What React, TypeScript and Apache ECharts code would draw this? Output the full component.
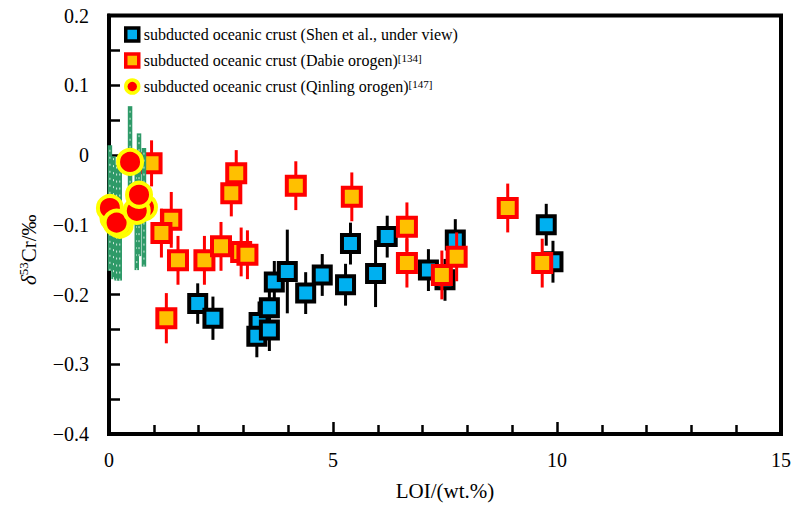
import React, { useEffect, useRef } from 'react';
import * as echarts from 'echarts';

// [LOI (wt.%), δ53Cr (‰), error (±)]
const shenData: [number, number, number][] = [
  [1.98, -0.213, 0.029],
  [2.32, -0.234, 0.031],
  [3.35, -0.24, 0.03],
  [3.3, -0.26, 0.03],
  [3.58, -0.219, 0.03],
  [3.58, -0.251, 0.03],
  [3.69, -0.182, 0.03],
  [3.98, -0.167, 0.06],
  [4.39, -0.198, 0.03],
  [4.76, -0.172, 0.03],
  [5.28, -0.186, 0.03],
  [5.39, -0.127, 0.03],
  [5.95, -0.17, 0.048],
  [6.21, -0.117, 0.03],
  [7.13, -0.165, 0.03],
  [7.73, -0.122, 0.03],
  [7.5, -0.179, 0.03],
  [9.76, -0.1, 0.03],
  [9.91, -0.153, 0.03],
];

const dabieData: [number, number, number][] = [
  [0.95, -0.012, 0.033],
  [1.39, -0.093, 0.04],
  [1.17, -0.112, 0.035],
  [1.54, -0.151, 0.035],
  [2.13, -0.151, 0.035],
  [2.84, -0.026, 0.033],
  [2.73, -0.055, 0.033],
  [4.17, -0.044, 0.035],
  [2.5, -0.131, 0.035],
  [2.95, -0.139, 0.035],
  [3.09, -0.143, 0.035],
  [1.28, -0.234, 0.036],
  [5.42, -0.06, 0.035],
  [6.65, -0.103, 0.035],
  [6.65, -0.155, 0.035],
  [7.76, -0.146, 0.035],
  [7.43, -0.172, 0.035],
  [8.9, -0.076, 0.035],
  [9.67, -0.155, 0.035],
];

const qinlingData: [number, number, number][] = [
  [0.1, -0.09, 0.088],
  [0.24, -0.1, 0.08],
  [0.02, -0.076, 0.09],
  [0.17, -0.097, 0.083],
  [0.78, -0.075, 0.085],
  [0.62, -0.08, 0.085],
  [0.67, -0.057, 0.088],
  [0.47, -0.01, 0.08],
];

const seriesNames = [
  'subducted oceanic crust (Shen et al., under view)',
  'subducted oceanic crust (Dabie orogen)',
  'subducted oceanic crust (Qinling orogen)',
];
const superscripts = ['', '[134]', '[147]'];

const xMin = 0;
const xMax = 15;
const xInterval = 5;
const yMin = -0.4;
const yMax = 0.2;
const yInterval = 0.1;

const FONT = "'Liberation Serif', 'Times New Roman', Times, serif";

function errorSeries(data: [number, number, number][], color: string, width: number, z: number, dotted = false) {
  return {
    type: 'custom',
    name: 'err-' + color,
    z,
    silent: true,
    clip: false,
    encode: { x: 0, y: [1, 2] },
    data: data.map((d) => [d[0], d[1] - d[2], d[1] + d[2]]),
    renderItem: (_params: any, api: any) => {
      const x = api.value(0);
      const a = api.coord([x, api.value(1)]);
      const b = api.coord([x, api.value(2)]);
      const shape = { x1: a[0], y1: a[1], x2: b[0], y2: b[1] };
      const children: any[] = [
        { type: 'line', shape, style: { stroke: color, lineWidth: width } },
      ];
      if (dotted) {
        children.push({
          type: 'line',
          shape,
          style: { stroke: '#ffffff', lineWidth: 0.8, lineDash: [2, 5] },
        });
      }
      return { type: 'group', children };
    },
  };
}

export default function App() {
  const ref = useRef<HTMLDivElement>(null);

  useEffect(() => {
    if (!ref.current) return;
    const chart = echarts.init(ref.current, undefined, { renderer: 'svg' });

    const fmt = (v: number) => {
      if (Math.abs(v) < 1e-9) return '0';
      return (v < 0 ? '\u2212' : '') + Math.abs(v).toFixed(1);
    };

    const option: any = {
      animation: false,
      backgroundColor: '#ffffff',
      textStyle: { fontFamily: FONT },
      grid: {
        left: 109,
        right: 9,
        top: 15.5,
        bottom: 81,
        show: true,
        borderColor: '#000',
        borderWidth: 4,
      },
      legend: {
        left: 124,
        top: 26,
        orient: 'vertical',
        padding: 0,
        itemGap: 9,
        itemWidth: 13,
        itemHeight: 13,
        selectedMode: false,
        textStyle: {
          fontFamily: FONT,
          fontSize: 16,
          color: '#000',
          lineHeight: 17,
          rich: {
            s: { fontFamily: FONT, fontSize: 11, verticalAlign: 'top', lineHeight: 17, color: '#000' },
          },
        },
        formatter: (name: string) => {
          const i = seriesNames.indexOf(name);
          const sup = superscripts[i];
          return sup ? name + '{s|' + sup + '}' : name;
        },
        data: [
          { name: seriesNames[0], icon: 'rect', itemStyle: { color: '#00B0F0', borderColor: '#000', borderWidth: 3.5 } },
          { name: seriesNames[1], icon: 'rect', itemStyle: { color: '#FFC000', borderColor: '#FF0000', borderWidth: 3.5 } },
          { name: seriesNames[2], icon: 'circle', itemStyle: { color: '#FF0000', borderColor: '#FFFF00', borderWidth: 3.5 } },
        ],
      },
      xAxis: {
        type: 'value',
        min: xMin,
        max: xMax,
        interval: xInterval,
        name: 'LOI/(wt.%)',
        nameLocation: 'middle',
        nameGap: 46,
        nameTextStyle: { fontFamily: FONT, fontSize: 21, color: '#000' },
        axisLine: { show: true, onZero: false, lineStyle: { color: '#000', width: 4 } },
        axisTick: { show: true, inside: true, length: 12, lineStyle: { color: '#000', width: 2.5 } },
        minorTick: { show: true, splitNumber: 5, length: 9, lineStyle: { color: '#000', width: 2.5 } },
        splitLine: { show: false },
        minorSplitLine: { show: false },
        axisLabel: { fontFamily: FONT, fontSize: 20, color: '#000', margin: 16 },
      },
      yAxis: {
        type: 'value',
        min: yMin,
        max: yMax,
        interval: yInterval,
        name: '{d|δ}{s|53}{n|Cr/‰}',
        nameLocation: 'middle',
        nameGap: 68,
        nameTextStyle: {
          fontFamily: FONT,
          fontSize: 21,
          color: '#000',
          padding: [0, 50, 0, 0],
          rich: {
            d: { fontFamily: FONT, fontSize: 21, fontStyle: 'italic', lineHeight: 24, color: '#000' },
            s: { fontFamily: FONT, fontSize: 13, verticalAlign: 'top', lineHeight: 24, color: '#000' },
            n: { fontFamily: FONT, fontSize: 21, lineHeight: 24, color: '#000' },
          },
        },
        axisLine: { show: true, onZero: false, lineStyle: { color: '#000', width: 4 } },
        axisTick: { show: true, inside: true, length: 11, lineStyle: { color: '#000', width: 2.5 } },
        minorTick: { show: true, splitNumber: 2, length: 11, lineStyle: { color: '#000', width: 2.5 } },
        splitLine: { show: false },
        minorSplitLine: { show: false },
        axisLabel: { fontFamily: FONT, fontSize: 20, color: '#000', margin: 20, formatter: fmt },
      },
      series: [
        errorSeries(shenData, '#000000', 3, 2),
        {
          type: 'scatter',
          name: seriesNames[0],
          z: 3,
          silent: true,
          clip: false,
          symbol: 'rect',
          symbolSize: 17,
          itemStyle: { color: '#00B0F0', borderColor: '#000', borderWidth: 4, opacity: 1 },
          data: shenData.map((d) => [d[0], d[1]]),
        },
        errorSeries(dabieData, '#FF0000', 3, 4),
        {
          type: 'scatter',
          name: seriesNames[1],
          z: 5,
          silent: true,
          clip: false,
          symbol: 'rect',
          symbolSize: 18,
          itemStyle: { color: '#FFC000', borderColor: '#FF0000', borderWidth: 4, opacity: 1 },
          data: dabieData.map((d) => [d[0], d[1]]),
        },
        errorSeries(qinlingData, '#2E9A68', 4.5, 6, true),
        {
          type: 'scatter',
          name: seriesNames[2],
          z: 7,
          silent: true,
          clip: false,
          symbol: 'circle',
          symbolSize: 24,
          itemStyle: { color: '#FF0000', borderColor: '#FFFF00', borderWidth: 4, opacity: 1 },
          data: qinlingData.map((d) => [d[0], d[1]]),
        },
      ],
    };

    chart.setOption(option);
    return () => {
      chart.dispose();
    };
  }, []);

  return (
    <div
      ref={ref}
      style={{ position: 'fixed', left: 0, top: 0, width: 794, height: 515, background: '#fff' }}
    />
  );
}
